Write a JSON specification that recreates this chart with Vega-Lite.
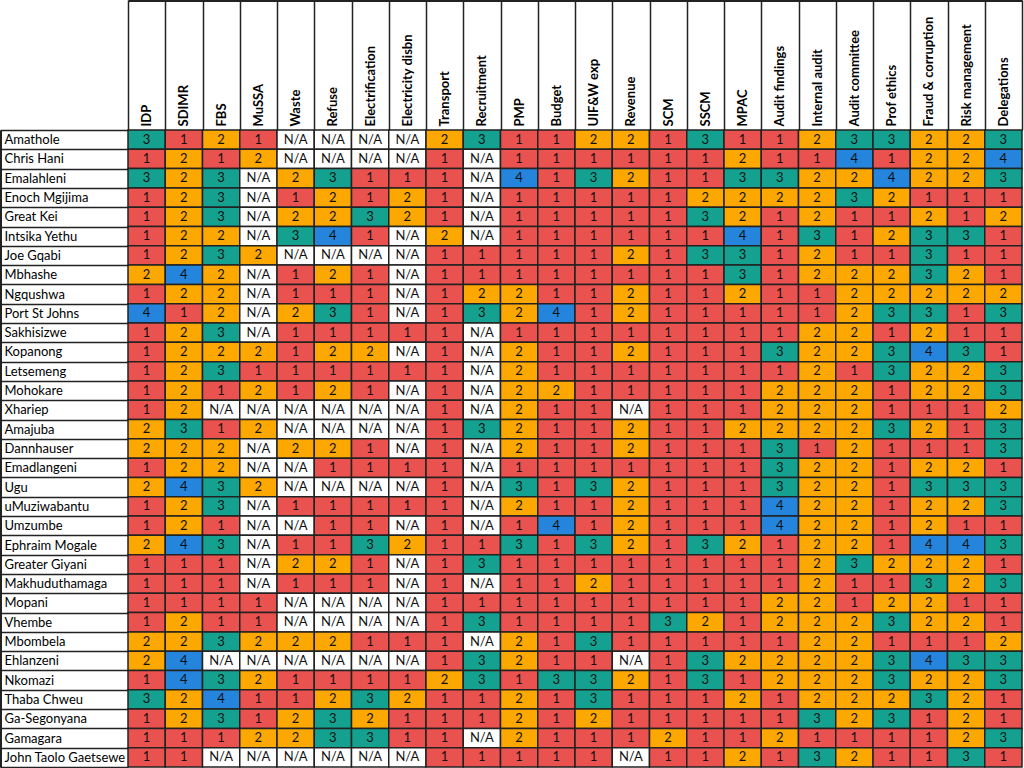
{
  "$schema": "https://vega.github.io/schema/vega-lite/v6.json",
  "width": 894,
  "height": 637,
  "autosize": {"type": "none"},
  "padding": {"left": 128, "top": 130, "right": 2, "bottom": 1},
  "background": "white",
  "config": {"view": {"stroke": null}},
  "data": {"values": [
    {"m":"Amathole","IDP":"3","SDIMR":"1","FBS":"2","MuSSA":"1","Waste":"N/A","Refuse":"N/A","Electrification":"N/A","Electricity disbn":"N/A","Transport":"2","Recruitment":"3","PMP":"1","Budget":"1","UIF&W exp":"2","Revenue":"2","SCM":"1","SSCM":"3","MPAC":"1","Audit findings":"1","Internal audit":"2","Audit committee":"3","Prof ethics":"3","Fraud & corruption":"2","Risk management":"2","Delegations":"3"},
    {"m":"Chris Hani","IDP":"1","SDIMR":"2","FBS":"1","MuSSA":"2","Waste":"N/A","Refuse":"N/A","Electrification":"N/A","Electricity disbn":"N/A","Transport":"1","Recruitment":"N/A","PMP":"1","Budget":"1","UIF&W exp":"1","Revenue":"1","SCM":"1","SSCM":"1","MPAC":"2","Audit findings":"1","Internal audit":"1","Audit committee":"4","Prof ethics":"1","Fraud & corruption":"2","Risk management":"2","Delegations":"4"},
    {"m":"Emalahleni","IDP":"3","SDIMR":"2","FBS":"3","MuSSA":"N/A","Waste":"2","Refuse":"3","Electrification":"1","Electricity disbn":"1","Transport":"1","Recruitment":"N/A","PMP":"4","Budget":"1","UIF&W exp":"3","Revenue":"2","SCM":"1","SSCM":"1","MPAC":"3","Audit findings":"3","Internal audit":"2","Audit committee":"2","Prof ethics":"4","Fraud & corruption":"2","Risk management":"2","Delegations":"3"},
    {"m":"Enoch Mgijima","IDP":"1","SDIMR":"2","FBS":"3","MuSSA":"N/A","Waste":"1","Refuse":"2","Electrification":"1","Electricity disbn":"2","Transport":"1","Recruitment":"N/A","PMP":"1","Budget":"1","UIF&W exp":"1","Revenue":"1","SCM":"1","SSCM":"2","MPAC":"2","Audit findings":"2","Internal audit":"2","Audit committee":"3","Prof ethics":"2","Fraud & corruption":"1","Risk management":"1","Delegations":"1"},
    {"m":"Great Kei","IDP":"1","SDIMR":"2","FBS":"3","MuSSA":"N/A","Waste":"2","Refuse":"2","Electrification":"3","Electricity disbn":"2","Transport":"1","Recruitment":"N/A","PMP":"1","Budget":"1","UIF&W exp":"1","Revenue":"1","SCM":"1","SSCM":"3","MPAC":"2","Audit findings":"1","Internal audit":"2","Audit committee":"1","Prof ethics":"1","Fraud & corruption":"2","Risk management":"1","Delegations":"2"},
    {"m":"Intsika Yethu","IDP":"1","SDIMR":"2","FBS":"2","MuSSA":"N/A","Waste":"3","Refuse":"4","Electrification":"1","Electricity disbn":"N/A","Transport":"2","Recruitment":"N/A","PMP":"1","Budget":"1","UIF&W exp":"1","Revenue":"1","SCM":"1","SSCM":"1","MPAC":"4","Audit findings":"1","Internal audit":"3","Audit committee":"1","Prof ethics":"2","Fraud & corruption":"3","Risk management":"3","Delegations":"1"},
    {"m":"Joe Gqabi","IDP":"1","SDIMR":"2","FBS":"3","MuSSA":"2","Waste":"N/A","Refuse":"N/A","Electrification":"N/A","Electricity disbn":"N/A","Transport":"1","Recruitment":"1","PMP":"1","Budget":"1","UIF&W exp":"1","Revenue":"2","SCM":"1","SSCM":"3","MPAC":"3","Audit findings":"1","Internal audit":"2","Audit committee":"1","Prof ethics":"1","Fraud & corruption":"3","Risk management":"1","Delegations":"1"},
    {"m":"Mbhashe","IDP":"2","SDIMR":"4","FBS":"2","MuSSA":"N/A","Waste":"1","Refuse":"2","Electrification":"1","Electricity disbn":"N/A","Transport":"1","Recruitment":"1","PMP":"1","Budget":"1","UIF&W exp":"1","Revenue":"1","SCM":"1","SSCM":"1","MPAC":"3","Audit findings":"1","Internal audit":"2","Audit committee":"2","Prof ethics":"2","Fraud & corruption":"3","Risk management":"2","Delegations":"1"},
    {"m":"Ngqushwa","IDP":"1","SDIMR":"2","FBS":"2","MuSSA":"N/A","Waste":"1","Refuse":"1","Electrification":"1","Electricity disbn":"N/A","Transport":"1","Recruitment":"2","PMP":"2","Budget":"1","UIF&W exp":"1","Revenue":"2","SCM":"1","SSCM":"1","MPAC":"2","Audit findings":"1","Internal audit":"1","Audit committee":"2","Prof ethics":"2","Fraud & corruption":"2","Risk management":"2","Delegations":"2"},
    {"m":"Port St Johns","IDP":"4","SDIMR":"1","FBS":"2","MuSSA":"N/A","Waste":"2","Refuse":"3","Electrification":"1","Electricity disbn":"N/A","Transport":"1","Recruitment":"3","PMP":"2","Budget":"4","UIF&W exp":"1","Revenue":"2","SCM":"1","SSCM":"1","MPAC":"1","Audit findings":"1","Internal audit":"1","Audit committee":"2","Prof ethics":"3","Fraud & corruption":"3","Risk management":"1","Delegations":"3"},
    {"m":"Sakhisizwe","IDP":"1","SDIMR":"2","FBS":"3","MuSSA":"N/A","Waste":"1","Refuse":"1","Electrification":"1","Electricity disbn":"1","Transport":"1","Recruitment":"N/A","PMP":"1","Budget":"1","UIF&W exp":"1","Revenue":"1","SCM":"1","SSCM":"1","MPAC":"1","Audit findings":"1","Internal audit":"2","Audit committee":"2","Prof ethics":"1","Fraud & corruption":"2","Risk management":"1","Delegations":"1"},
    {"m":"Kopanong","IDP":"1","SDIMR":"2","FBS":"2","MuSSA":"2","Waste":"1","Refuse":"2","Electrification":"2","Electricity disbn":"N/A","Transport":"1","Recruitment":"N/A","PMP":"2","Budget":"1","UIF&W exp":"1","Revenue":"2","SCM":"1","SSCM":"1","MPAC":"1","Audit findings":"3","Internal audit":"2","Audit committee":"2","Prof ethics":"3","Fraud & corruption":"4","Risk management":"3","Delegations":"1"},
    {"m":"Letsemeng","IDP":"1","SDIMR":"2","FBS":"3","MuSSA":"1","Waste":"1","Refuse":"1","Electrification":"1","Electricity disbn":"1","Transport":"1","Recruitment":"N/A","PMP":"2","Budget":"1","UIF&W exp":"1","Revenue":"1","SCM":"1","SSCM":"1","MPAC":"1","Audit findings":"1","Internal audit":"2","Audit committee":"1","Prof ethics":"3","Fraud & corruption":"2","Risk management":"2","Delegations":"3"},
    {"m":"Mohokare","IDP":"1","SDIMR":"2","FBS":"1","MuSSA":"2","Waste":"1","Refuse":"2","Electrification":"1","Electricity disbn":"N/A","Transport":"1","Recruitment":"N/A","PMP":"2","Budget":"2","UIF&W exp":"1","Revenue":"1","SCM":"1","SSCM":"1","MPAC":"1","Audit findings":"2","Internal audit":"2","Audit committee":"2","Prof ethics":"1","Fraud & corruption":"2","Risk management":"2","Delegations":"3"},
    {"m":"Xhariep","IDP":"1","SDIMR":"2","FBS":"N/A","MuSSA":"N/A","Waste":"N/A","Refuse":"N/A","Electrification":"N/A","Electricity disbn":"N/A","Transport":"1","Recruitment":"N/A","PMP":"2","Budget":"1","UIF&W exp":"1","Revenue":"N/A","SCM":"1","SSCM":"1","MPAC":"1","Audit findings":"2","Internal audit":"2","Audit committee":"2","Prof ethics":"1","Fraud & corruption":"1","Risk management":"1","Delegations":"2"},
    {"m":"Amajuba","IDP":"2","SDIMR":"3","FBS":"1","MuSSA":"2","Waste":"N/A","Refuse":"N/A","Electrification":"N/A","Electricity disbn":"N/A","Transport":"1","Recruitment":"3","PMP":"2","Budget":"1","UIF&W exp":"1","Revenue":"2","SCM":"1","SSCM":"1","MPAC":"2","Audit findings":"2","Internal audit":"2","Audit committee":"2","Prof ethics":"3","Fraud & corruption":"2","Risk management":"1","Delegations":"3"},
    {"m":"Dannhauser","IDP":"2","SDIMR":"2","FBS":"2","MuSSA":"N/A","Waste":"2","Refuse":"2","Electrification":"1","Electricity disbn":"N/A","Transport":"1","Recruitment":"N/A","PMP":"2","Budget":"1","UIF&W exp":"1","Revenue":"2","SCM":"1","SSCM":"1","MPAC":"1","Audit findings":"3","Internal audit":"1","Audit committee":"2","Prof ethics":"1","Fraud & corruption":"1","Risk management":"1","Delegations":"3"},
    {"m":"Emadlangeni","IDP":"1","SDIMR":"2","FBS":"2","MuSSA":"N/A","Waste":"N/A","Refuse":"1","Electrification":"1","Electricity disbn":"1","Transport":"1","Recruitment":"N/A","PMP":"1","Budget":"1","UIF&W exp":"1","Revenue":"1","SCM":"1","SSCM":"1","MPAC":"1","Audit findings":"3","Internal audit":"2","Audit committee":"2","Prof ethics":"1","Fraud & corruption":"2","Risk management":"2","Delegations":"1"},
    {"m":"Ugu","IDP":"2","SDIMR":"4","FBS":"3","MuSSA":"2","Waste":"N/A","Refuse":"N/A","Electrification":"N/A","Electricity disbn":"N/A","Transport":"1","Recruitment":"N/A","PMP":"3","Budget":"1","UIF&W exp":"3","Revenue":"2","SCM":"1","SSCM":"1","MPAC":"1","Audit findings":"3","Internal audit":"2","Audit committee":"2","Prof ethics":"1","Fraud & corruption":"3","Risk management":"3","Delegations":"3"},
    {"m":"uMuziwabantu","IDP":"1","SDIMR":"2","FBS":"3","MuSSA":"N/A","Waste":"1","Refuse":"1","Electrification":"1","Electricity disbn":"1","Transport":"1","Recruitment":"N/A","PMP":"2","Budget":"1","UIF&W exp":"1","Revenue":"2","SCM":"1","SSCM":"1","MPAC":"1","Audit findings":"4","Internal audit":"2","Audit committee":"2","Prof ethics":"1","Fraud & corruption":"2","Risk management":"2","Delegations":"3"},
    {"m":"Umzumbe","IDP":"1","SDIMR":"2","FBS":"1","MuSSA":"N/A","Waste":"N/A","Refuse":"1","Electrification":"1","Electricity disbn":"N/A","Transport":"1","Recruitment":"N/A","PMP":"1","Budget":"4","UIF&W exp":"1","Revenue":"2","SCM":"1","SSCM":"1","MPAC":"1","Audit findings":"4","Internal audit":"2","Audit committee":"2","Prof ethics":"1","Fraud & corruption":"2","Risk management":"1","Delegations":"1"},
    {"m":"Ephraim Mogale","IDP":"2","SDIMR":"4","FBS":"3","MuSSA":"N/A","Waste":"1","Refuse":"1","Electrification":"3","Electricity disbn":"2","Transport":"1","Recruitment":"1","PMP":"3","Budget":"1","UIF&W exp":"3","Revenue":"2","SCM":"1","SSCM":"3","MPAC":"2","Audit findings":"1","Internal audit":"2","Audit committee":"2","Prof ethics":"1","Fraud & corruption":"4","Risk management":"4","Delegations":"3"},
    {"m":"Greater Giyani","IDP":"1","SDIMR":"1","FBS":"1","MuSSA":"N/A","Waste":"2","Refuse":"2","Electrification":"1","Electricity disbn":"N/A","Transport":"1","Recruitment":"3","PMP":"1","Budget":"1","UIF&W exp":"1","Revenue":"1","SCM":"1","SSCM":"1","MPAC":"1","Audit findings":"1","Internal audit":"2","Audit committee":"3","Prof ethics":"2","Fraud & corruption":"2","Risk management":"2","Delegations":"1"},
    {"m":"Makhuduthamaga","IDP":"1","SDIMR":"1","FBS":"1","MuSSA":"N/A","Waste":"1","Refuse":"1","Electrification":"1","Electricity disbn":"N/A","Transport":"1","Recruitment":"N/A","PMP":"1","Budget":"1","UIF&W exp":"2","Revenue":"1","SCM":"1","SSCM":"1","MPAC":"1","Audit findings":"1","Internal audit":"2","Audit committee":"1","Prof ethics":"1","Fraud & corruption":"3","Risk management":"2","Delegations":"3"},
    {"m":"Mopani","IDP":"1","SDIMR":"1","FBS":"1","MuSSA":"1","Waste":"N/A","Refuse":"N/A","Electrification":"N/A","Electricity disbn":"N/A","Transport":"1","Recruitment":"1","PMP":"1","Budget":"1","UIF&W exp":"1","Revenue":"1","SCM":"1","SSCM":"1","MPAC":"1","Audit findings":"2","Internal audit":"2","Audit committee":"1","Prof ethics":"2","Fraud & corruption":"2","Risk management":"1","Delegations":"1"},
    {"m":"Vhembe","IDP":"1","SDIMR":"2","FBS":"1","MuSSA":"1","Waste":"N/A","Refuse":"N/A","Electrification":"N/A","Electricity disbn":"N/A","Transport":"1","Recruitment":"3","PMP":"1","Budget":"1","UIF&W exp":"1","Revenue":"1","SCM":"3","SSCM":"2","MPAC":"1","Audit findings":"2","Internal audit":"2","Audit committee":"2","Prof ethics":"3","Fraud & corruption":"2","Risk management":"2","Delegations":"1"},
    {"m":" Mbombela","IDP":"2","SDIMR":"2","FBS":"3","MuSSA":"2","Waste":"2","Refuse":"2","Electrification":"1","Electricity disbn":"1","Transport":"1","Recruitment":"N/A","PMP":"2","Budget":"1","UIF&W exp":"3","Revenue":"1","SCM":"1","SSCM":"1","MPAC":"1","Audit findings":"1","Internal audit":"2","Audit committee":"2","Prof ethics":"1","Fraud & corruption":"1","Risk management":"1","Delegations":"2"},
    {"m":"Ehlanzeni","IDP":"2","SDIMR":"4","FBS":"N/A","MuSSA":"N/A","Waste":"N/A","Refuse":"N/A","Electrification":"N/A","Electricity disbn":"N/A","Transport":"1","Recruitment":"3","PMP":"2","Budget":"1","UIF&W exp":"1","Revenue":"N/A","SCM":"1","SSCM":"3","MPAC":"2","Audit findings":"2","Internal audit":"2","Audit committee":"2","Prof ethics":"3","Fraud & corruption":"4","Risk management":"3","Delegations":"3"},
    {"m":"Nkomazi","IDP":"1","SDIMR":"4","FBS":"3","MuSSA":"2","Waste":"1","Refuse":"1","Electrification":"1","Electricity disbn":"1","Transport":"2","Recruitment":"3","PMP":"1","Budget":"3","UIF&W exp":"3","Revenue":"2","SCM":"1","SSCM":"3","MPAC":"1","Audit findings":"2","Internal audit":"2","Audit committee":"2","Prof ethics":"3","Fraud & corruption":"2","Risk management":"2","Delegations":"3"},
    {"m":"Thaba Chweu","IDP":"3","SDIMR":"2","FBS":"4","MuSSA":"1","Waste":"1","Refuse":"2","Electrification":"3","Electricity disbn":"2","Transport":"1","Recruitment":"1","PMP":"2","Budget":"1","UIF&W exp":"3","Revenue":"1","SCM":"1","SSCM":"1","MPAC":"2","Audit findings":"1","Internal audit":"2","Audit committee":"2","Prof ethics":"2","Fraud & corruption":"3","Risk management":"2","Delegations":"1"},
    {"m":"Ga-Segonyana","IDP":"1","SDIMR":"2","FBS":"3","MuSSA":"1","Waste":"2","Refuse":"3","Electrification":"2","Electricity disbn":"1","Transport":"1","Recruitment":"1","PMP":"2","Budget":"1","UIF&W exp":"2","Revenue":"1","SCM":"1","SSCM":"1","MPAC":"1","Audit findings":"1","Internal audit":"3","Audit committee":"2","Prof ethics":"3","Fraud & corruption":"1","Risk management":"2","Delegations":"1"},
    {"m":"Gamagara","IDP":"1","SDIMR":"1","FBS":"1","MuSSA":"2","Waste":"2","Refuse":"3","Electrification":"3","Electricity disbn":"1","Transport":"1","Recruitment":"N/A","PMP":"2","Budget":"1","UIF&W exp":"1","Revenue":"1","SCM":"2","SSCM":"1","MPAC":"1","Audit findings":"2","Internal audit":"1","Audit committee":"1","Prof ethics":"1","Fraud & corruption":"1","Risk management":"2","Delegations":"3"},
    {"m":"John Taolo Gaetsewe","IDP":"1","SDIMR":"1","FBS":"N/A","MuSSA":"N/A","Waste":"N/A","Refuse":"N/A","Electrification":"N/A","Electricity disbn":"N/A","Transport":"1","Recruitment":"1","PMP":"1","Budget":"1","UIF&W exp":"1","Revenue":"N/A","SCM":"1","SSCM":"1","MPAC":"2","Audit findings":"1","Internal audit":"3","Audit committee":"2","Prof ethics":"1","Fraud & corruption":"1","Risk management":"3","Delegations":"1"}
  ]},
  "transform": [
    {"fold": ["IDP","SDIMR","FBS","MuSSA","Waste","Refuse","Electrification","Electricity disbn","Transport","Recruitment","PMP","Budget","UIF&W exp","Revenue","SCM","SSCM","MPAC","Audit findings","Internal audit","Audit committee","Prof ethics","Fraud & corruption","Risk management","Delegations"], "as": ["k","v"]}
  ],
  "layer": [
    {
      "mark": {"type": "rect", "stroke": "#222222", "strokeWidth": 1.5},
      "encoding": {
        "x": {"field": "k", "type": "nominal",
          "sort": ["IDP","SDIMR","FBS","MuSSA","Waste","Refuse","Electrification","Electricity disbn","Transport","Recruitment","PMP","Budget","UIF&W exp","Revenue","SCM","SSCM","MPAC","Audit findings","Internal audit","Audit committee","Prof ethics","Fraud & corruption","Risk management","Delegations"],
          "scale": {"paddingInner": 0, "paddingOuter": 0},
          "axis": {"orient": "top", "title": null, "domain": false, "tickBand": "extent", "tickSize": 130, "tickColor": "#222222", "tickWidth": 1.5, "labelAngle": -90, "labelAlign": "left", "labelBaseline": "middle", "labelPadding": -126, "labelFont": "Lato", "labelFontWeight": "bold", "labelFontSize": 13, "labelColor": "#000000", "labelOverlap": false, "labelBound": false, "labelLimit": 200}},
        "y": {"field": "m", "type": "nominal",
          "sort": ["Amathole","Chris Hani","Emalahleni","Enoch Mgijima","Great Kei","Intsika Yethu","Joe Gqabi","Mbhashe","Ngqushwa","Port St Johns","Sakhisizwe","Kopanong","Letsemeng","Mohokare","Xhariep","Amajuba","Dannhauser","Emadlangeni","Ugu","uMuziwabantu","Umzumbe","Ephraim Mogale","Greater Giyani","Makhuduthamaga","Mopani","Vhembe"," Mbombela","Ehlanzeni","Nkomazi","Thaba Chweu","Ga-Segonyana","Gamagara","John Taolo Gaetsewe"],
          "scale": {"paddingInner": 0, "paddingOuter": 0},
          "axis": {"orient": "left", "title": null, "domain": false, "tickBand": "extent", "tickSize": 128, "tickColor": "#222222", "tickWidth": 1.5, "labelAlign": "left", "labelBaseline": "middle", "labelPadding": -4, "labelFont": "Lato", "labelFontSize": 13, "labelColor": "#000000", "labelOverlap": false, "labelBound": false, "labelLimit": 200}},
        "color": {"field": "v", "type": "nominal",
          "scale": {"domain": ["1","2","3","4","N/A"], "range": ["#E9524F","#FDA800","#15A18F","#2584DC","#FFFFFF"]},
          "legend": null}
      }
    },
    {
      "mark": {"type": "text", "font": "Lato", "fontSize": 13, "color": "#111111", "baseline": "middle", "align": "center"},
      "encoding": {
        "x": {"field": "k", "type": "nominal",
          "sort": ["IDP","SDIMR","FBS","MuSSA","Waste","Refuse","Electrification","Electricity disbn","Transport","Recruitment","PMP","Budget","UIF&W exp","Revenue","SCM","SSCM","MPAC","Audit findings","Internal audit","Audit committee","Prof ethics","Fraud & corruption","Risk management","Delegations"],
          "axis": {"orient": "top", "offset": 130, "title": null, "labels": false, "ticks": false, "domain": true, "domainColor": "#222222", "domainWidth": 3}},
        "y": {"field": "m", "type": "nominal",
          "sort": ["Amathole","Chris Hani","Emalahleni","Enoch Mgijima","Great Kei","Intsika Yethu","Joe Gqabi","Mbhashe","Ngqushwa","Port St Johns","Sakhisizwe","Kopanong","Letsemeng","Mohokare","Xhariep","Amajuba","Dannhauser","Emadlangeni","Ugu","uMuziwabantu","Umzumbe","Ephraim Mogale","Greater Giyani","Makhuduthamaga","Mopani","Vhembe"," Mbombela","Ehlanzeni","Nkomazi","Thaba Chweu","Ga-Segonyana","Gamagara","John Taolo Gaetsewe"],
          "axis": {"orient": "left", "offset": 128, "title": null, "labels": false, "ticks": false, "domain": true, "domainColor": "#222222", "domainWidth": 3}},
        "text": {"field": "v", "type": "nominal"}
      }
    }
  ],
  "resolve": {"axis": {"x": "independent", "y": "independent"}}
}
